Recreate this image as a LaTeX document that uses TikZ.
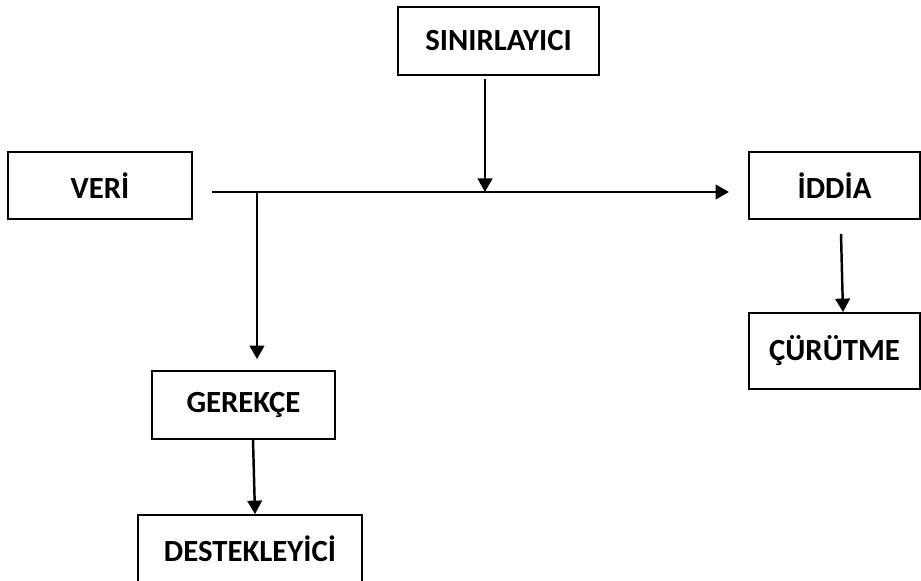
\documentclass[tikz,border=0pt]{standalone}
\usepackage{fontspec}
\setmainfont{Carlito}
\usetikzlibrary{arrows.meta}

\begin{document}
\begin{tikzpicture}[
  font=\fontsize{17.5}{20}\selectfont\bfseries,
  box/.style={draw, line width=1pt, align=center, minimum height=13.6mm, inner sep=2pt},
  arr/.style={-{Triangle[length=2.7mm,width=2.9mm]}, line width=1.4pt},
]
\useasboundingbox (0,0) rectangle (18.42,11.6);
\node[box, minimum width=40.2mm] (snr) at (9.97,10.78) {SINIRLAYICI};
\node[box, minimum width=36.8mm, minimum height=13.4mm] (veri) at (2.0,7.89) {VERİ};
\node[box, minimum width=34.2mm, minimum height=13.4mm] (iddia) at (16.69,7.89) {İDDİA};
\node[box, minimum width=34.2mm, minimum height=15.2mm] (crt) at (16.69,4.58) {ÇÜRÜTME};
\node[box, minimum width=36.6mm] (grk) at (4.87,3.5) {GEREKÇE};
\node[box, minimum width=44.8mm] (dst) at (5.0,0.62) {DESTEKLEYİCİ};
% main line from data to claim
\coordinate (hs) at (4.24,7.76);
\coordinate (he) at (14.58,7.76);
\coordinate (sj) at (9.70,7.76);
\coordinate (gj) at (5.14,7.76);
\draw[arr] (hs) -- (he);
\draw[arr] ([yshift=-0.6mm]sj |- snr.south) -- (sj);
\draw[arr] (gj) -- ([yshift=2.2mm]gj |- grk.north);
\draw[arr] ([xshift=1.9mm]grk.south) -- ([xshift=1mm]dst.north);
\draw[arr] ([xshift=1.3mm,yshift=-2.8mm]iddia.south) -- ([xshift=1.7mm]crt.north);
\end{tikzpicture}
\end{document}
